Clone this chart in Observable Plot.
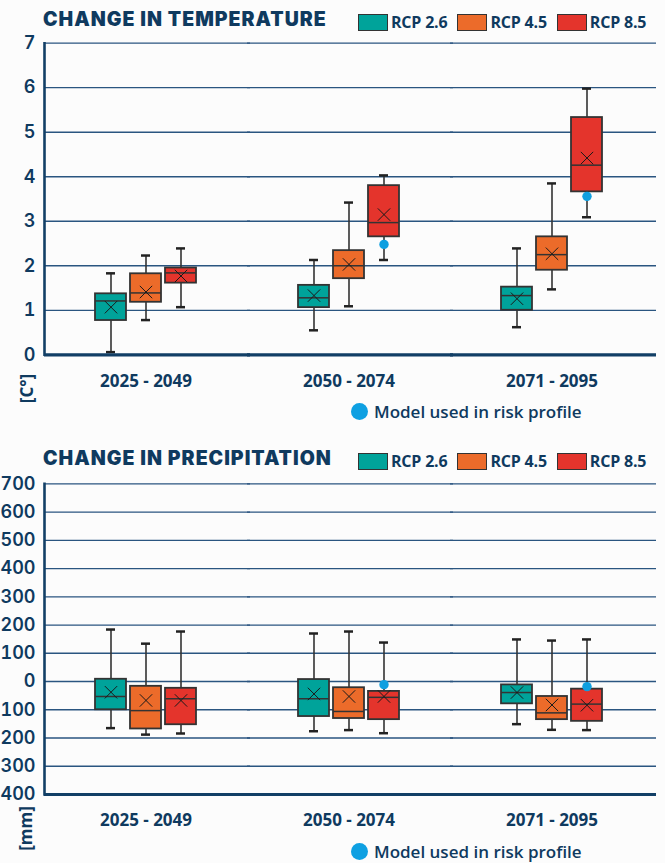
<!DOCTYPE html>
<html>
<head>
<meta charset="utf-8">
<script src="https://cdn.jsdelivr.net/npm/d3@7"></script>
<script src="https://cdn.jsdelivr.net/npm/@observablehq/plot@0.6"></script>
<style>
  html, body { margin: 0; padding: 0; background: #fcfcfc; }
  #page { position: relative; width: 665px; height: 863px; overflow: hidden; font-family: "Open Sans", sans-serif; color: #0f3a5f; }
  .abs { position: absolute; }
  .title { font-family: Inter, sans-serif; font-weight: 900; font-size: 19.5px; line-height: 19.5px; letter-spacing: 1px; white-space: nowrap; color: #0f3a5f; }
  .leg { display: flex; align-items: center; white-space: nowrap; }
  .sw { width: 28px; height: 15px; border: 1.8px solid #333; box-sizing: content-box; }
  .legtxt { font-weight: 700; font-size: 16px; margin-left: 3px; margin-right: 10px; letter-spacing: -0.2px; }
  .model { display: flex; align-items: center; font-weight: 600; font-size: 17px; white-space: nowrap; }
  .model .dot { width: 17px; height: 17px; border-radius: 50%; background: #0ea0e2; margin-right: 6px; }
  .unit { font-weight: 700; font-size: 17px; line-height: 17px; transform: rotate(-90deg); transform-origin: center; white-space: nowrap; }
  svg g[aria-label="y-axis tick label"] text { font-family: Inter, sans-serif; font-weight: 600; font-size: 18px; }
  svg g[aria-label="fx-axis tick label"] text { font-family: "Open Sans", sans-serif; font-weight: 700; font-size: 17px; }
</style>
</head>
<body>
<div id="page"></div>
<script>
// ---------- data ----------
const periods = ["2025 - 2049", "2050 - 2074", "2071 - 2095"];
const scenarios = ["RCP 2.6", "RCP 4.5", "RCP 8.5"];
const scenarioColors = ["#00a39a", "#ec6b2a", "#e4342c"];

// temperature change [°C], rows = periods, columns = scenarios
const tempLow    = [[0.06, 0.78, 1.07], [0.55, 1.09, 2.13], [0.62, 1.47, 3.09]];
const tempQ1     = [[0.77, 1.18, 1.61], [1.06, 1.71, 2.65], [1.00, 1.90, 3.66]];
const tempMedian = [[1.21, 1.39, 1.84], [1.28, 2.00, 2.97], [1.33, 2.25, 4.26]];
const tempQ3     = [[1.37, 1.82, 1.95], [1.56, 2.34, 3.80], [1.52, 2.65, 5.33]];
const tempHigh   = [[1.83, 2.23, 2.39], [2.13, 3.42, 4.03], [2.39, 3.85, 5.98]];
const tempMean   = [[1.07, 1.41, 1.77], [1.33, 2.03, 3.15], [1.26, 2.27, 4.42]];
const tempModelPeriod   = ["2050 - 2074", "2071 - 2095"];
const tempModelScenario = ["RCP 8.5", "RCP 8.5"];
const tempModelValue    = [2.48, 3.56];
const tempTicks = [0, 1, 2, 3, 4, 5, 6, 7];

// precipitation change [mm]
const precLow    = [[-165, -188, -184], [-176, -172, -183], [-151, -171, -172]];
const precQ1     = [[-100, -168, -153], [-124, -131, -135], [-79, -135, -141]];
const precMedian = [[-53, -103, -61], [-61, -106, -56], [-39, -111, -80]];
const precQ3     = [[8, -17, -24], [7, -22, -35], [-12, -53, -27]];
const precHigh   = [[184, 134, 177], [170, 177, 138], [149, 145, 149]];
const precMean   = [[-38, -67, -67], [-44, -53, -53], [-39, -83, -84]];
const precModelPeriod   = ["2050 - 2074", "2071 - 2095"];
const precModelScenario = ["RCP 8.5", "RCP 8.5"];
const precModelValue    = [-11, -18];
const precTicks = [-400, -300, -200, -100, 0, 100, 200, 300, 400, 500, 600, 700];
// the reference image shows the negative tick labels with their sign cropped off
const precTickFormat = d => String(Math.abs(d));

// ---------- helpers ----------
const navy = "#0f3a5f";
const gridColor = "#2a5580";
const axisColor = "#123f66";

function buildRows(low, q1, med, q3, high, mean) {
  const rows = [];
  periods.forEach((p, i) => scenarios.forEach((s, j) => rows.push({
    period: p, scenario: s, low: low[i][j], q1: q1[i][j], median: med[i][j],
    q3: q3[i][j], high: high[i][j], mean: mean[i][j]
  })));
  return rows;
}
function buildModels(ps, ss, vs) {
  return ps.map((p, i) => ({period: p, scenario: ss[i], value: vs[i]}));
}

function boxChart({rows, models, ticks, tickFormat, height, marginTop, marginBottom, tickPadding}) {
  const yDomain = [ticks[0], ticks[ticks.length - 1]];
  return Plot.plot({
    width: 665, height, marginLeft: 44, marginRight: 12, marginTop, marginBottom,
    style: {background: "transparent", color: navy, overflow: "visible", fontFamily: "Open Sans, sans-serif"},
    fx: {domain: periods, padding: 0, label: null},
    x: {domain: scenarios, paddingInner: 0.122, paddingOuter: 1.436, axis: null},
    y: {domain: yDomain, axis: null},
    color: {domain: scenarios, range: scenarioColors},
    marks: [
      Plot.ruleY(ticks.slice(1), {stroke: gridColor, strokeWidth: 1.3, insetRight: -3}),
      Plot.ruleX(rows, {fx: "period", x: "scenario", y1: "low", y2: "high", stroke: "#333", strokeWidth: 1.6}),
      Plot.tickY(rows, {fx: "period", x: "scenario", y: "low", stroke: "#222", strokeWidth: 2.5, inset: 11}),
      Plot.tickY(rows, {fx: "period", x: "scenario", y: "high", stroke: "#222", strokeWidth: 2.5, inset: 11}),
      Plot.barY(rows, {fx: "period", x: "scenario", y1: "q1", y2: "q3", fill: "scenario", stroke: "#333", strokeWidth: 1.8}),
      Plot.tickY(rows, {fx: "period", x: "scenario", y: "median", stroke: "#333", strokeWidth: 1.5}),
      Plot.dot(rows, {fx: "period", x: "scenario", y: "mean", symbol: "times", r: 5.7, stroke: "#1a1a1a", strokeWidth: 1}),
      Plot.dot(models, {fx: "period", x: "scenario", y: "value", r: 4.7, fill: "#0f9fe0", stroke: "none"}),
      Plot.ruleY([ticks[0]], {stroke: axisColor, strokeWidth: 3.2, insetRight: -3}),
      Plot.frame({anchor: "left", facetAnchor: "left", stroke: axisColor, strokeWidth: 2.6}),
      Plot.axisY(ticks, {tickSize: 0, tickPadding: 9, label: null, facetAnchor: "left", tickFormat}),
      Plot.axisFx({anchor: "bottom", tickSize: 0, tickPadding, label: null})
    ]
  });
}

const page = document.getElementById("page");
function add(el, left, top) { el.classList.add("abs"); el.style.left = left + "px"; el.style.top = top + "px"; page.appendChild(el); return el; }
function div(cls, html) { const d = document.createElement("div"); d.className = cls; d.innerHTML = html; return d; }

// ---------- temperature ----------
const svg1 = boxChart({
  rows: buildRows(tempLow, tempQ1, tempMedian, tempQ3, tempHigh, tempMean),
  models: buildModels(tempModelPeriod, tempModelScenario, tempModelValue),
  ticks: tempTicks, tickFormat: d => String(d), height: 400, marginTop: 42.7, marginBottom: 45.7, tickPadding: 20
});
add(svg1, 0, 0);

// ---------- precipitation ----------
const svg2 = boxChart({
  rows: buildRows(precLow, precQ1, precMedian, precQ3, precHigh, precMean),
  models: buildModels(precModelPeriod, precModelScenario, precModelValue),
  ticks: precTicks, tickFormat: precTickFormat, height: 400, marginTop: 43.3, marginBottom: 46, tickPadding: 19
});
add(svg2, 0, 440);

// ---------- titles, legends ----------
function legendRow() {
  const r = div("leg", "");
  scenarios.forEach((s, i) => {
    r.innerHTML += `<div class="sw" style="background:${scenarioColors[i]}"></div><div class="legtxt">${s}</div>`;
  });
  return r;
}
add(div("title", "CHANGE IN TEMPERATURE"), 43, 10);
add(legendRow(), 358, 11);
add(div("title", "CHANGE IN PRECIPITATION"), 43, 449);
add(legendRow(), 358, 450);

add(div("model", '<div class="dot"></div>Model used in risk profile'), 351, 400);
add(div("model", '<div class="dot"></div>Model used in risk profile'), 351, 840);

add(div("unit", "[C°]"), 12, 380);
add(div("unit", "[mm]"), 3, 820);
</script>
</body>
</html>
